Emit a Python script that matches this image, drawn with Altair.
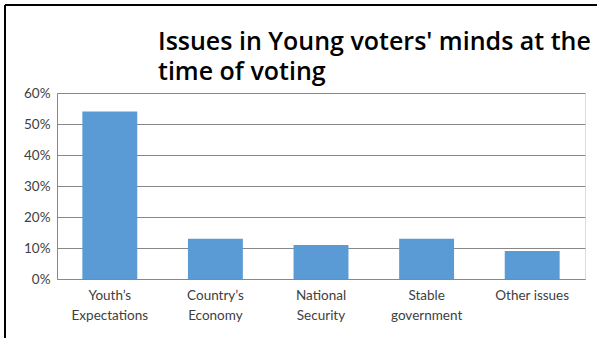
import altair as alt
import pandas as pd

categories = ["Youth’s Expectations", "Country’s Economy", "National Security",
              "Stable government", "Other issues"]
values = [0.54, 0.13, 0.11, 0.13, 0.09]
y_ticks = [0, 0.1, 0.2, 0.3, 0.4, 0.5, 0.6]
title_lines = ["Issues in Young voters' minds at the", "time of voting"]

df = pd.DataFrame({"issue": categories, "share": values})
one = pd.DataFrame({"k": [0]})

FONT = "Lato"

bars = alt.Chart(df).mark_bar(color="#5B9BD5").encode(
    x=alt.X("issue:N", sort=categories, title=None,
            scale=alt.Scale(paddingInner=0.48, paddingOuter=0.24),
            axis=alt.Axis(labelAngle=0, ticks=False, domainColor="#888888",
                          labelColor="#404040", labelFont=FONT, labelFontSize=13.5,
                          labelPadding=9, labelLineHeight=20,
                          labelExpr="datum.label == 'Other issues' ? datum.label : split(datum.label, ' ')")),
    y=alt.Y("share:Q", title=None,
            scale=alt.Scale(domain=[0, 0.6], nice=False),
            axis=alt.Axis(values=y_ticks, format=".0%", ticks=False, grid=True,
                          gridColor="#888888", domainColor="#888888",
                          labelColor="#404040", labelFont=FONT, labelFontSize=13.5,
                          labelPadding=7)),
)

title = alt.Chart(one).mark_text(
    align="left", baseline="alphabetic", font="Open Sans", fontSize=25,
    fontWeight=600, color="black", lineHeight=30,
).encode(x=alt.value(101), y=alt.value(-43), text=alt.value(title_lines))

frame_top = alt.Chart(one).mark_rule(color="black", strokeWidth=2).encode(
    x=alt.value(-52), x2=alt.value(540), y=alt.value(-88))
frame_left = alt.Chart(one).mark_rule(color="black", strokeWidth=2).encode(
    x=alt.value(-52), y=alt.value(-88), y2=alt.value(250))

chart = alt.layer(bars, title, frame_top, frame_left).properties(
    width=528, height=186,
    autosize=alt.AutoSizeParams(type="none"),
    padding={"left": 57, "top": 93, "right": 12, "bottom": 59},
).configure_view(stroke=None).configure(background="white")

chart.save("out.html", embed_options={"renderer": "svg", "actions": False})
